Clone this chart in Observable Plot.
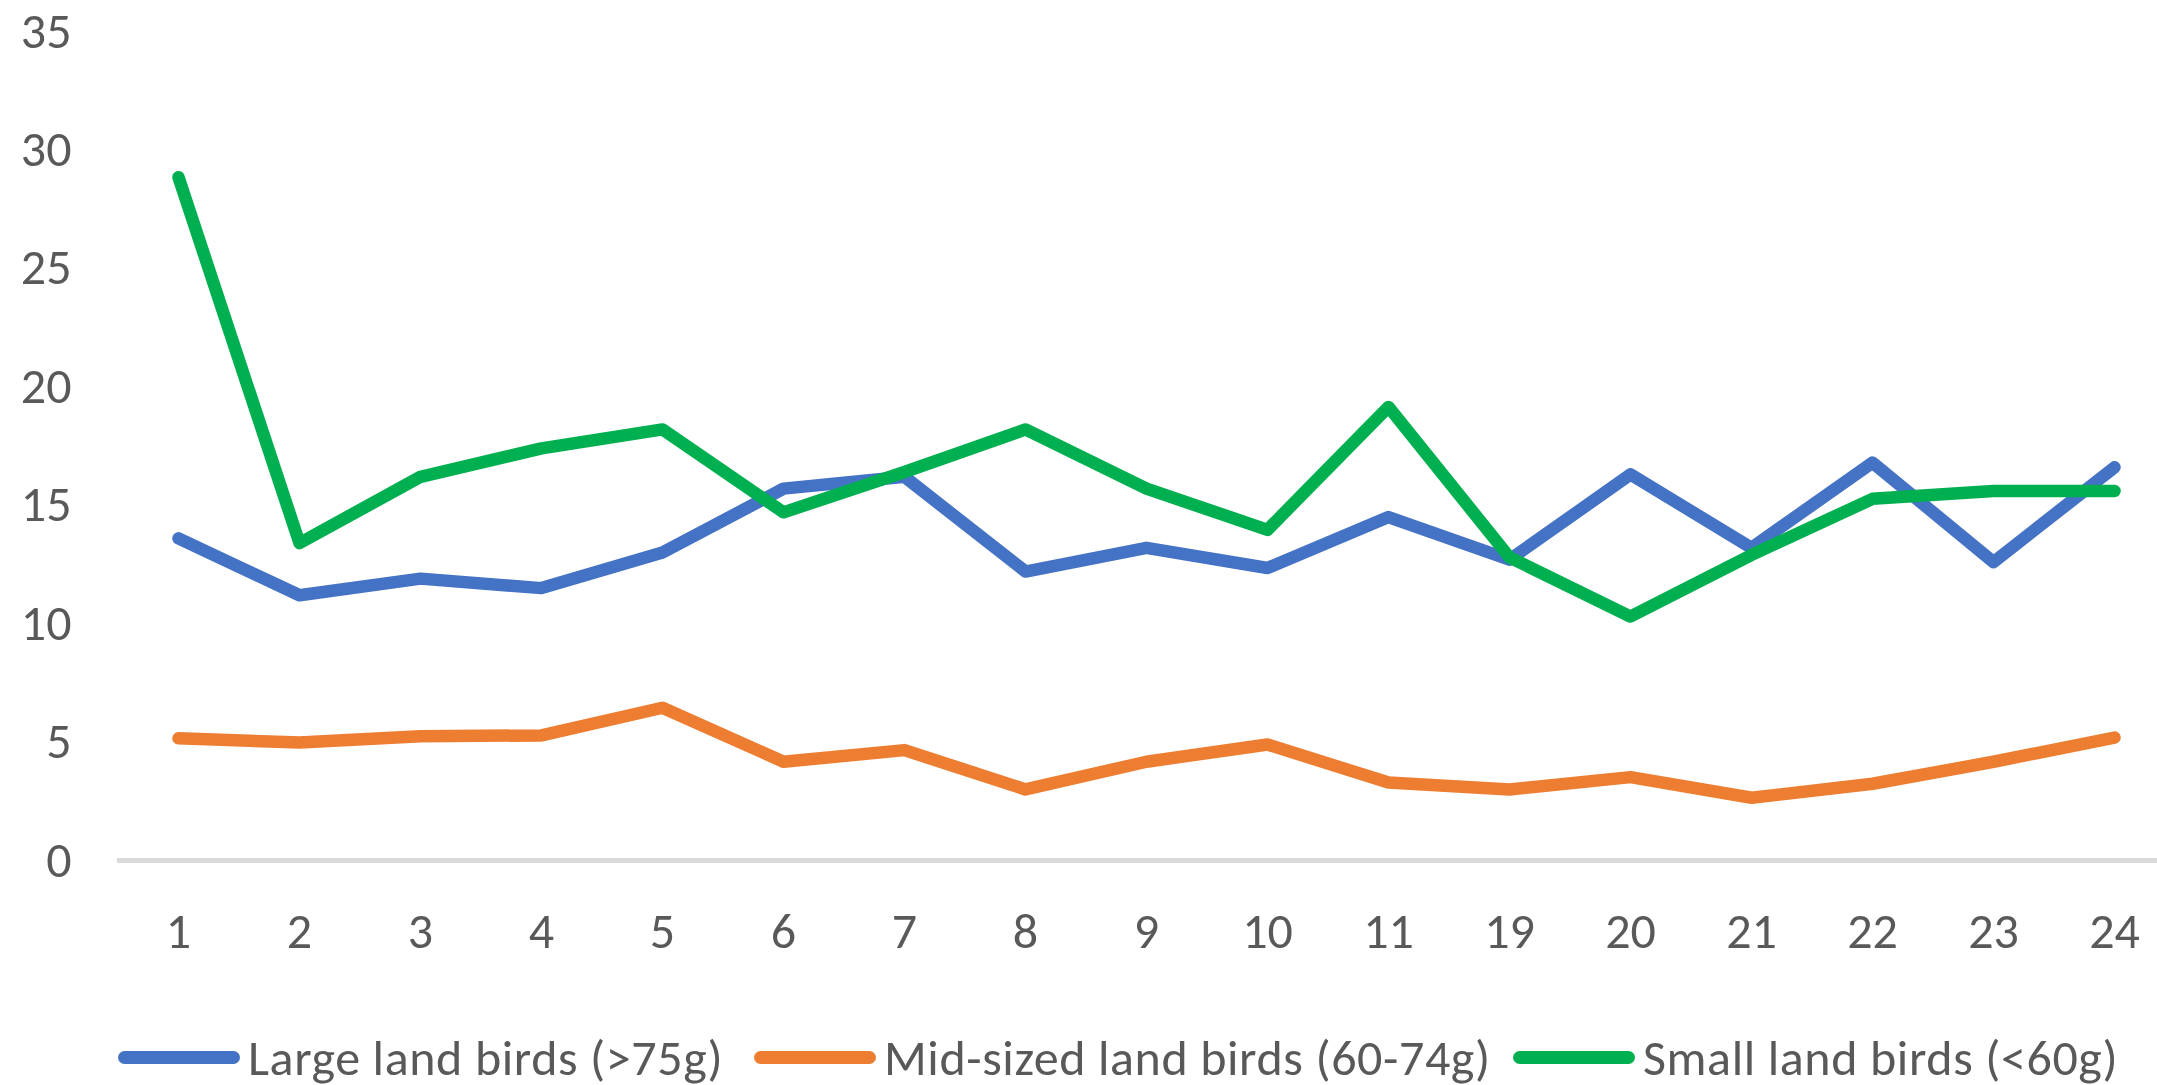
<!DOCTYPE html>
<html>
<head>
<meta charset="utf-8">
<script src="https://cdn.jsdelivr.net/npm/d3@7"></script>
<script src="https://cdn.jsdelivr.net/npm/@observablehq/plot@0.6"></script>
<style>
  html, body { margin: 0; padding: 0; background: #fff; overflow: hidden; }
  #chart svg { display: block; }
  .legend { position: relative; height: 100px; font-family: Carlito, Calibri, "Liberation Sans Narrow", Lato, sans-serif; font-size: 50px; letter-spacing: 0.6px; color: #595959; }
  .item { position: absolute; top: 42px; display: flex; align-items: center; white-space: nowrap; }
  .sw { display: inline-block; width: 122px; height: 13px; border-radius: 7px; margin-right: 8px; }
</style>
</head>
<body>
<div id="chart"></div>
<div class="legend" id="legend"></div>
<script>
const categories = ["1","2","3","4","5","6","7","8","9","10","11","19","20","21","22","23","24"];
const seriesNames = ["Large land birds (>75g)", "Mid-sized land birds (60-74g)", "Small land birds (<60g)"];
const seriesColors = ["#4472C4", "#ED7D31", "#00B050"];
const large = [13.6, 11.2, 11.9, 11.5, 13.0, 15.7, 16.2, 12.2, 13.2, 12.35, 14.5, 12.7, 16.3, 13.2, 16.8, 12.6, 16.6];
const mid   = [5.16, 4.98, 5.25, 5.28, 6.45, 4.17, 4.66, 3.0, 4.17, 4.9, 3.29, 3.0, 3.52, 2.65, 3.24, 4.17, 5.19];
const small = [28.85, 13.4, 16.2, 17.4, 18.2, 14.7, 16.4, 18.2, 15.7, 13.96, 19.15, 12.8, 10.3, 12.9, 15.27, 15.6, 15.6];
const yTicks = [0, 5, 10, 15, 20, 25, 30, 35];

const rows = [];
[large, mid, small].forEach((vals, s) => {
  vals.forEach((v, i) => rows.push({cat: categories[i], value: v, series: seriesNames[s]}));
});

const font = 'Carlito, Calibri, "Liberation Sans Narrow", Lato, sans-serif';

const chart = Plot.plot({
  width: 2157,
  height: 985,
  marginTop: 31,
  marginBottom: 125,
  marginLeft: 117,
  marginRight: 0,
  style: {fontFamily: font, fontSize: "50px", color: "#595959", background: "#fff"},
  x: {type: "point", domain: categories, padding: 0.5, range: [117, 2174], label: null},
  y: {domain: [0, 35], ticks: yTicks, label: null},
  color: {domain: seriesNames, range: seriesColors},
  marks: [
    Plot.axisY({ticks: yTicks, tickSize: 0, tickPadding: 46, fontSize: 50, label: null}),
    Plot.axisX({tickSize: 0, tickPadding: 52, fontSize: 50, label: null}),
    Plot.ruleY([0], {stroke: "#D9D9D9", strokeWidth: 5}),
    Plot.line(rows, {x: "cat", y: "value", stroke: "series", z: "series", strokeWidth: 12.5, strokeLinejoin: "round", strokeLinecap: "round"})
  ]
});
document.getElementById("chart").appendChild(chart);

const legendLefts = [118, 754, 1513];
const legend = d3.select("#legend");
seriesNames.forEach((name, i) => {
  const item = legend.append("div").attr("class", "item").style("left", legendLefts[i] + "px");
  item.append("span").attr("class", "sw").style("background", seriesColors[i]);
  item.append("span").text(name);
});
</script>
</body>
</html>
